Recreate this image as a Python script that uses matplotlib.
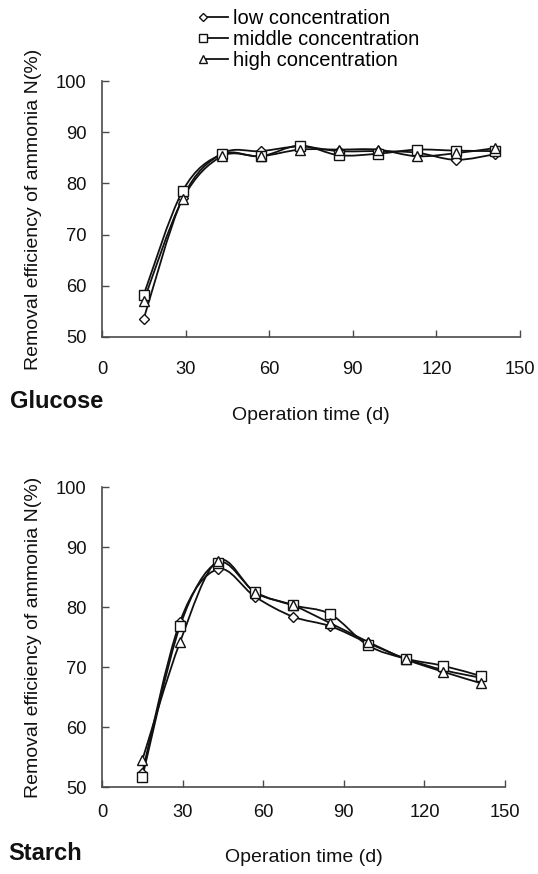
import numpy as np
import matplotlib
matplotlib.use('Agg')
import matplotlib.pyplot as plt
from matplotlib.path import Path
from matplotlib.patches import PathPatch
from matplotlib.lines import Line2D
from matplotlib.legend_handler import HandlerLine2D

plt.rcParams['font.family'] = ['Liberation Sans', 'DejaVu Sans']

# ---------------- data ----------------
days = [15, 29, 43, 57, 71, 85, 99, 113, 127, 141]
series_names = ['low concentration', 'middle concentration', 'high concentration']
glucose_low = [53.6, 77.2, 85.8, 86.3, 87.2, 86.3, 86.3, 86.0, 84.6, 85.7]
glucose_middle = [58.3, 78.6, 85.7, 85.3, 87.4, 85.5, 85.8, 86.6, 86.4, 86.3]
glucose_high = [57.1, 77.0, 85.3, 85.3, 86.6, 86.6, 86.6, 85.3, 85.9, 86.9]
starch_low = [52.4, 77.5, 86.3, 81.7, 78.4, 76.8, 74.0, 71.4, 69.5, 68.2]
starch_middle = [51.6, 76.8, 87.4, 82.5, 80.3, 78.8, 73.6, 71.4, 70.2, 68.5]
starch_high = [54.5, 74.1, 87.7, 82.4, 80.3, 77.3, 74.2, 71.3, 69.2, 67.3]
x_ticks = [0, 30, 60, 90, 120, 150]
y_ticks = [50, 60, 70, 80, 90, 100]
y_label = 'Removal efficiency of ammonia N(%)'
x_label = 'Operation time (d)'
panel_names = ['Glucose', 'Starch']

markers = ['D', 's', '^']
msizes = [5.0, 6.5, 7.5]

W, H = 538, 874
fig = plt.figure(figsize=(W / 100, H / 100), dpi=100)


def axrect(l, t, r, b):
    return [l / W, 1 - b / H, (r - l) / W, (b - t) / H]


def smooth_path(x, y):
    x = np.asarray(x, float)
    y = np.asarray(y, float)
    n = len(x)
    verts = [(x[0], y[0])]
    codes = [Path.MOVETO]
    for i in range(n - 1):
        p0 = np.array([x[max(i - 1, 0)], y[max(i - 1, 0)]])
        p1 = np.array([x[i], y[i]])
        p2 = np.array([x[i + 1], y[i + 1]])
        p3 = np.array([x[min(i + 2, n - 1)], y[min(i + 2, n - 1)]])
        c1 = p1 + (p2 - p0) / 6.0
        c2 = p2 - (p3 - p1) / 6.0
        verts += [tuple(c1), tuple(c2), tuple(p2)]
        codes += [Path.CURVE4] * 3
    return Path(verts, codes)


ax1 = fig.add_axes(axrect(102, 81, 520, 337))
ax2 = fig.add_axes(axrect(102, 487, 505, 787))

FS_TICK = 13.2
FS_LAB = 14.0
spine_col = '#4a4a4a'
ink = '#111111'

for ax, data, xpad, xl_y, yl_x in [
        (ax1, [glucose_low, glucose_middle, glucose_high], 17, -0.272, -0.143),
        (ax2, [starch_low, starch_middle, starch_high], 12, -0.205, -0.149)]:
    for vals, mk, ms in zip(data, markers, msizes):
        patch = PathPatch(smooth_path(days, vals), facecolor='none', edgecolor=ink,
                          lw=1.3, zorder=2)
        ax.add_patch(patch)
        ax.plot(days, vals, linestyle='none', marker=mk, ms=ms, mfc='white',
                mec=ink, mew=1.0, zorder=3)
    ax.set_xlim(0, 150)
    ax.set_ylim(50, 100)
    ax.set_xticks(x_ticks)
    ax.set_yticks(y_ticks)
    for s in ['top', 'right']:
        ax.spines[s].set_visible(False)
    for s in ['left', 'bottom']:
        ax.spines[s].set_color(spine_col)
        ax.spines[s].set_linewidth(1.2)
    ax.tick_params(axis='both', direction='in', length=5, width=1.0, color=spine_col,
                   labelsize=FS_TICK, labelcolor=ink)
    ax.tick_params(axis='y', pad=11)
    ax.tick_params(axis='x', pad=xpad)
    ax.set_ylabel(y_label, fontsize=FS_LAB, color=ink)
    ax.yaxis.set_label_coords(yl_x, 0.5)
    ax.set_xlabel(x_label, fontsize=FS_LAB, color=ink)
    ax.xaxis.set_label_coords(0.5, xl_y)

fig.text(10 / W, 1 - 401 / H, panel_names[0], fontsize=17, fontweight='bold',
         ha='left', va='center', color=ink)
fig.text(8 / W, 1 - 853 / H, panel_names[1], fontsize=17, fontweight='bold',
         ha='left', va='center', color=ink)


class LeftMarkerHandler(HandlerLine2D):
    def create_artists(self, legend, orig_handle, xdescent, ydescent, width, height,
                       fontsize, trans):
        artists = super().create_artists(legend, orig_handle, xdescent, ydescent, width,
                                         height, fontsize, trans)
        for a in artists:
            a.set_markevery([0])
        return artists


handles = [Line2D([], [], color=ink, lw=1.3, marker=mk, ms=ms * 0.8, mfc='white',
                  mec=ink, mew=1.0) for mk, ms in zip(markers, msizes)]
fig.legend(handles, series_names, loc='upper left', bbox_to_anchor=(203 / W, 1 - 9 / H),
           frameon=False, fontsize=14.5, numpoints=1, handlelength=1.25, handletextpad=0.25,
           labelspacing=0.1, borderpad=0, borderaxespad=0,
           handler_map={Line2D: LeftMarkerHandler()})

fig.savefig('out.png', dpi=100)
